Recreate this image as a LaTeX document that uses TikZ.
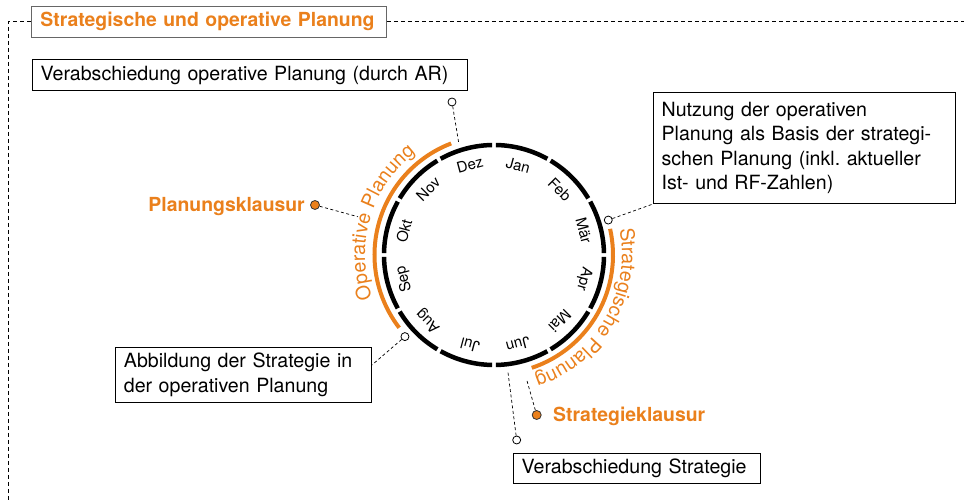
\documentclass[tikz,border=0pt]{standalone}
\usepackage{fontspec}
\setmainfont{TeX Gyre Heros}
\usetikzlibrary{decorations.text}

\definecolor{planorange}{RGB}{234,128,28}
\frenchspacing

\tikzset{
  titlebox/.style={draw=black!60, line width=1pt, anchor=north west,
    font=\fontsize{19.4}{24}\selectfont\bfseries, text=planorange,
    text width=337pt, inner xsep=9pt, inner ysep=2pt, minimum height=30.7pt, align=left},
  infobox/.style={draw=black, line width=0.8pt, anchor=north west,
    font=\fontsize{19.6}{24.5}\selectfont, inner xsep=8.5pt, inner ysep=2pt, align=left},
  hint/.style={font=\fontsize{19.4}{24}\selectfont\bfseries, text=planorange, inner sep=0pt},
  month/.style={font=\fontsize{15}{15}\selectfont, inner sep=0pt},
  ringseg/.style={line width=4.5pt},
  planarc/.style={planorange, line width=4pt},
  frame/.style={dash pattern=on 4pt off 3pt, line width=0.8pt},
  conn/.style={dash pattern=on 3pt off 2.5pt, line width=0.7pt},
  odot/.style={circle, draw, line width=0.8pt, fill=white, minimum size=8pt, inner sep=0pt},
  fdot/.style={circle, draw=black!80, line width=0.8pt, fill=planorange, minimum size=9pt, inner sep=0pt}
}

\begin{document}
\begin{tikzpicture}[x=1pt,y=1pt]
  \useasboundingbox (-494,-247) rectangle (470,255);

  % Rahmen mit Titel
  \node[titlebox] (title) at (-463,249) {Strategische und operative Planung};
  \draw[frame] (title.west) -- ++(-23,0) -- ++(0,-481);
  \draw[frame] (title.east) -- (470,0 |- title.east);

  % Jahreskreis
  \foreach \k in {0,...,11}
    \draw[ringseg] (\k*30+1:110) arc[start angle=\k*30+1, end angle=\k*30+29, radius=110];
  \foreach \m [count=\i] in {Jan,Feb,Mär,Apr,Mai,Jun,Jul,Aug,Sep,Okt,Nov,Dez}
    \node[month, rotate=15-30*\i] (m\i) at (105-30*\i:93) {\m};

  % Planungsphasen
  \draw[planarc] (111:119.5) arc[start angle=111, end angle=217.5, radius=119.5];
  \draw[planarc] (12.7:119) arc[start angle=12.7, end angle=-71.5, radius=119];
  \path[decorate, decoration={text along path, text align=center, text color=planorange,
      text={|\fontsize{19.6}{19.6}\selectfont|Operative Planung}}]
    (203.5:129) arc[start angle=203.5, end angle=123.5, radius=129];
  \path[decorate, decoration={text along path, text align=center, text color=planorange,
      text={|\fontsize{19.6}{19.6}\selectfont|Strategische Planung}}]
    (16:128) arc[start angle=16, end angle=-76, radius=128];

  % Kaesten
  \node[infobox, text width=418pt, minimum height=30.7pt] (arBox) at (-462.3,195.7)
    {Verabschiedung operative Planung (durch AR)};
  \node[infobox, text width=285pt, minimum height=111.6pt] (nutzung) at (158.7,163.3)
    {Nutzung der operativen\\Planung als Basis der strategi-\\schen Planung (inkl. aktueller\\Ist- und RF-Zahlen)};
  \node[infobox, text width=238.7pt, minimum height=54.4pt] (abb) at (-379,-92.3)
    {Abbildung der Strategie in\\der operativen Planung};
  \node[infobox, text width=230.3pt, minimum height=30pt] (vstr) at (18.7,-198.3)
    {Verabschiedung Strategie};

  % Marker und Verbindungen
  \node[odot] (arDot) at (-42,153) {};
  \coordinate (arEnd) at (107.5:117);
  \draw[conn] (arDot) -- (arEnd);

  \node[odot] (nuDot) at (17:119.5) {};
  \draw[conn] (nuDot) -- (nutzung.south west);

  \node[odot] (abDot) at (222.5:120.8) {};
  \coordinate (abEnd) at ([yshift=9.5pt]abb.east);
  \draw[conn] (abDot) -- (abEnd);

  \node[fdot] (pkDot) at (-179,50) {};
  \node[hint, anchor=base east] (pk) at (-189,43.5) {Planungsklausur};
  \coordinate (pkEnd) at (164.3:141.3);
  \draw[conn] (pkDot) -- (pkEnd);

  \node[fdot] (skDot) at (42.7,-160) {};
  \node[hint, anchor=base west] (sk) at (59,-166.5) {Strategieklausur};
  \coordinate (skEnd) at (-75.3:129.2);
  \draw[conn] (skDot) -- (skEnd);

  \node[odot] (stDot) at (22.7,-185) {};
  \coordinate (stEnd) at (-83.2:117.8);
  \draw[conn] (stDot) -- (stEnd);
\end{tikzpicture}
\end{document}
